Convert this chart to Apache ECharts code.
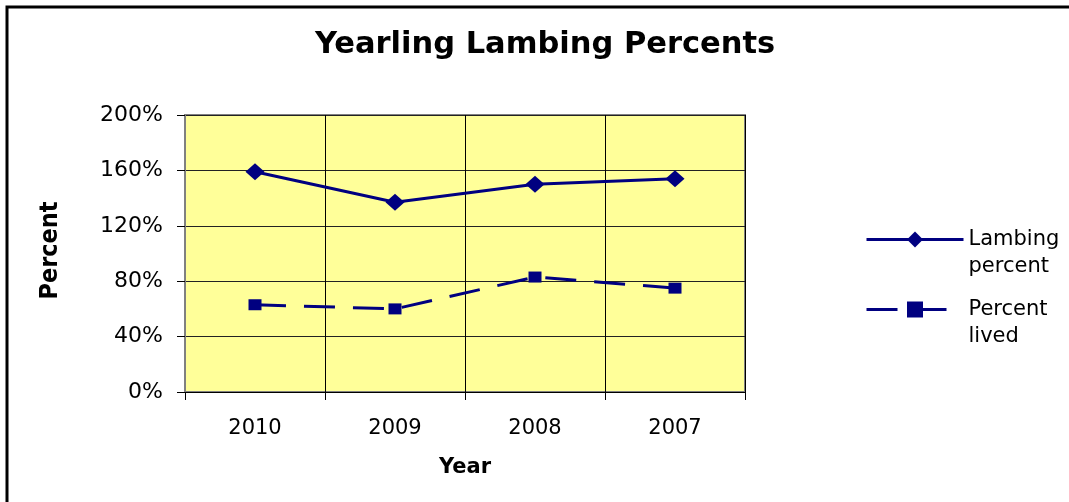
<!DOCTYPE html>
<html>
<head>
<meta charset="utf-8">
<style>
  html, body { margin: 0; padding: 0; background: #fff; }
  #chart { width: 1069px; height: 502px; }
</style>
<script src="https://cdn.jsdelivr.net/npm/echarts@6/dist/echarts.min.js"></script>
</head>
<body>
<div id="chart"></div>
<script>
const categories = ['2010', '2009', '2008', '2007'];
const lambingPercent = [159, 137, 150, 154];
const percentLived = [63, 60, 83, 75];
const yTicks = { min: 0, max: 200, interval: 40 };

const navy = '#000080';
const labelFont = "'DejaVu Sans', 'Liberation Sans', sans-serif";

const chart = echarts.init(document.getElementById('chart'), null, { renderer: 'canvas' });
chart.setOption({
  animation: false,
  backgroundColor: '#ffffff',
  title: {
    text: 'Yearling Lambing Percents',
    left: 310,
    top: 25,
    textStyle: { fontFamily: labelFont, fontWeight: 'bold', fontSize: 30.5, color: '#000' }
  },
  graphic: [
    { type: 'rect', shape: { x: 7, y: 7, width: 2000, height: 2000 },
      style: { fill: 'none', stroke: '#000', lineWidth: 3 }, silent: true }
  ],
  legend: {
    orient: 'vertical',
    left: 860,
    top: 194,
    itemWidth: 97,
    itemHeight: 20,
    itemGap: -11,
    formatter: function (name) { return '\u00a0\n' + name.replace(' ', '\n'); },
    lineStyle: { width: 3 },
    textStyle: { fontFamily: labelFont, fontSize: 21, color: '#000', lineHeight: 27 },
    data: ['Lambing percent', 'Percent lived']
  },
  grid: {
    left: 185, right: 324, top: 115, bottom: 110,
    show: true, backgroundColor: '#FFFF99', borderColor: '#808080', borderWidth: 2
  },
  xAxis: {
    type: 'category',
    data: categories,
    boundaryGap: true,
    name: 'Year',
    nameLocation: 'middle',
    nameGap: 65,
    nameTextStyle: { fontFamily: labelFont, fontWeight: 'bold', fontSize: 21, color: '#000' },
    axisLine: { show: true, lineStyle: { color: '#000', width: 1 } },
    axisTick: { show: true, inside: false, length: 8, alignWithLabel: false, lineStyle: { color: '#000' } },
    axisLabel: { fontFamily: labelFont, fontSize: 21, color: '#000', margin: 26 },
    splitLine: { show: true, lineStyle: { color: '#000', width: 1 } }
  },
  yAxis: {
    type: 'value',
    min: yTicks.min, max: yTicks.max, interval: yTicks.interval,
    name: 'Percent',
    nameLocation: 'middle',
    nameRotate: 90,
    nameGap: 122,
    nameTextStyle: { fontFamily: "'Liberation Sans Narrow', 'DejaVu Sans Condensed', sans-serif", fontWeight: 'bold', fontSize: 25, color: '#000', padding: [0, 0, 0, 6] },
    axisLine: { show: true, lineStyle: { color: '#808080', width: 2 } },
    axisTick: { show: true, inside: false, length: 8, lineStyle: { color: '#000' } },
    axisLabel: { fontFamily: labelFont, fontSize: 22, color: '#000', margin: 22, formatter: '{value}%', padding: [5, 0, 0, 0] },
    splitLine: { show: true, lineStyle: { color: '#222', width: 1 } }
  },
  series: [
    {
      name: 'Lambing percent',
      type: 'line',
      data: lambingPercent,
      symbol: 'diamond',
      symbolSize: [19, 17],
      lineStyle: { color: navy, width: 3 },
      itemStyle: { color: navy },
      z: 3
    },
    {
      name: 'Percent lived',
      type: 'line',
      data: percentLived,
      symbol: 'rect',
      symbolSize: [13, 11],
      lineStyle: { color: navy, width: 3, type: [31, 18] },
      itemStyle: { color: navy },
      z: 3
    }
  ]
});
</script>
</body>
</html>
